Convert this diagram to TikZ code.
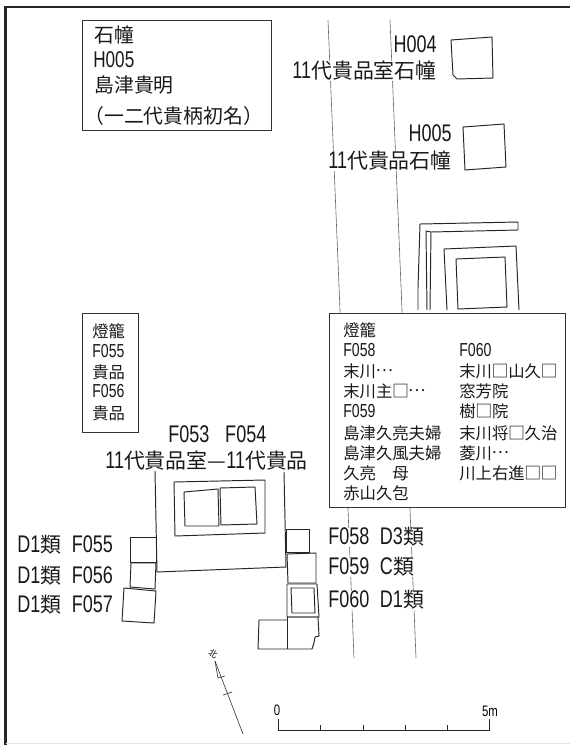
\documentclass[tikz,border=0pt]{standalone}
\usepackage{fontspec}
\setmainfont{Noto Sans CJK JP}
\newfontfamily\lat[Scale=1.15,FakeStretch=.75]{Liberation Sans}
\newcommand\puntos{\makebox[1em]{\raisebox{.33em}{…}}}
\newcommand\hueco{\makebox[1em]{\scalebox{1.04}{□}}}
\tikzset{
    marco/.style={line width=1.2pt, black!85},
    cuadro/.style={draw=black!80, line width=0.5pt, fill=white},
    muro/.style={draw=black!85, line width=0.55pt},
    camino/.style={draw=black!60, line width=0.35pt},
    rotulo/.style={anchor=west, inner sep=0pt, fill=white, text=black!90, font=\fontsize{11.9}{14}\selectfont},
    rotuloder/.style={rotulo, anchor=east},
    pilar/.style={anchor=west, inner sep=0pt, text=black!90, font=\fontsize{11.3}{13}\selectfont},
    nota/.style={anchor=west, inner sep=0pt, text=black!90, font=\fontsize{9.3}{11}\selectfont},
    escala/.style={draw=black!85, line width=0.55pt}
}
\begin{document}
\begin{tikzpicture}[x=0.02cm, y=-0.02cm]
    \useasboundingbox (0,0) rectangle (570,745);

    % Dibuja el marco
    \draw[marco] (5.5,745) -- (5.5,7) -- (570,7);
    \draw[black!10, line width=0.5pt] (5.5,743.5) -- (570,743.5);

    % Dibuja los caminos
    \draw[camino] (328,20) -- (340,310) -- (354,658);
    \draw[camino] (390,20) -- (402,310) -- (416,658);

    % Dibuja los bloques de arriba
    \draw[muro] (451,40) -- (492,37) -- (493,78) -- (457,79) -- (453,75) -- cycle;
    \draw[muro] (463,127) -- (504,124) -- (506,167) -- (465,170) -- cycle;

    % Dibuja la tumba de arriba
    \draw[muro] (418,310) -- (418,288) -- (420,224) -- (518,222) -- (518,230) -- (431,232) -- (430,310);
    \draw[muro] (431,232) -- (426,231) -- (427,310);
    \draw[muro] (447,310) -- (444,249) -- (516,246) -- (519,310);
    \draw[muro] (456,259) -- (505,257) -- (507,307) -- (458,309) -- cycle;

    % Dibuja la tumba de abajo
    \draw[muro] (155,471) -- (157,572) -- (286,567) -- (284,472);
    \draw[muro] (174,482) -- (265,480) -- (265,533) -- (175,536) -- cycle;
    \draw[muro] (184,492) -- (218,489) -- (219,526) -- (185,526) -- cycle;
    \draw[muro] (220,488) -- (255,487) -- (257,524) -- (221,525) -- cycle;

    % Dibuja los bloques de la izquierda
    \draw[muro] (130,537) -- (156,537) -- (156,562) -- (130,562) -- cycle;
    \draw[muro] (131,563) -- (156,563) -- (155,589) -- (130,587) -- cycle;
    \draw[muro] (124,588) -- (156,591) -- (154,623) -- (122,621) -- cycle;

    % Dibuja los bloques de la derecha
    \draw[muro] (286,529) -- (309,529) -- (309,552) -- (286,552) -- cycle;
    \draw[muro] (287,554) -- (316,553) -- (316,583) -- (288,583) -- cycle;
    \draw[muro] (287,584) -- (317,584) -- (319,617) -- (287,617) -- cycle;
    \draw[muro] (291,588) -- (314,588) -- (315,613) -- (292,613) -- cycle;
    \draw[muro] (287,617) -- (318,617) -- (319,636) -- (315,637) -- (314,643) -- (312,649) -- (258,649) -- (259,620) -- (287,620);
    \draw[muro] (287,617) -- (287,649);

    % Etiquetas de arriba
    \node[rotuloder] (tagHcuatro) at (437,44) {\lat H004};
    \node[rotuloder] (nameHcuatro) at (437,71) {\lat 11\normalfont 代貴品室石幢};
    \node[rotuloder] (tagHcinco) at (452,133) {\lat H005};
    \node[rotuloder] (nameHcinco) at (452,161) {\lat 11\normalfont 代貴品石幢};

    % Etiquetas de abajo
    \node[rotulo] (tagFtumba) at (168,434) {\lat F053\hspace{9pt}F054};
    \node[rotulo] (nameFtumba) at (105,461) {\lat 11\normalfont 代貴品室—\lat 11\normalfont 代貴品};
    \node[rotulo] (labelFa) at (17,545) {\lat D1\normalfont 類\hspace{6pt}\lat F055};
    \node[rotulo] (labelFb) at (17,576) {\lat D1\normalfont 類\hspace{6pt}\lat F056};
    \node[rotulo] (labelFc) at (17,605) {\lat D1\normalfont 類\hspace{6pt}\lat F057};
    \node[rotulo] (labelFd) at (328,537) {\lat F058\hspace{6pt}D3\normalfont 類};
    \node[rotulo] (labelFe) at (328,567) {\lat F059\hspace{6pt}C\normalfont 類};
    \node[rotulo] (labelFf) at (328,600) {\lat F060\hspace{6pt}D1\normalfont 類};

    % Cuadro del pilar
    \node[cuadro, minimum width=189.5*0.02cm, minimum height=110.5*0.02cm, anchor=north west, inner sep=0pt] (boxPilar) at (81.5,19.5) {};
    \node[pilar] (pilarA) at (94,35) {石幢};
    \node[pilar] (pilarB) at (93,60) {\lat H005};
    \node[pilar] (pilarC) at (94,85) {島津貴明};
    \node[pilar] (pilarD) at (84,116) {（一二代貴柄初名）};

    % Cuadro de la izquierda
    \node[cuadro, minimum width=56*0.02cm, minimum height=119*0.02cm, anchor=north west, inner sep=0pt] (boxLinterna) at (82,313) {};
    \foreach \nombre/\y/\txt in {a/331/燈籠, b/351/{\lat F055}, c/372/貴品, d/391/{\lat F056}, e/413/貴品}
        \node[nota] (linterna\nombre) at (92,\y) {\txt};

    % Cuadro de la derecha
    \node[cuadro, minimum width=236*0.02cm, minimum height=194*0.02cm, anchor=north west, inner sep=0pt] (boxLista) at (329,313) {};
    \foreach \nombre/\y/\txt in {a/330/燈籠, b/350/{\lat F058}, c/371/末川\puntos, d/391/末川主\hueco\puntos, e/411/{\lat F059}, f/433/島津久亮夫婦, g/453/島津久風夫婦, h/473/久亮　母, i/493/赤山久包}
        \node[nota] (listaL\nombre) at (343,\y) {\txt};
    \foreach \nombre/\y/\txt in {a/350/{\lat F060}, b/371/末川\hueco 山久\hueco, c/391/窓芳院, d/411/樹\hueco 院, e/433/末川将\hueco 久治, f/453/菱川\puntos, g/473/川上右進\hueco\hueco}
        \node[nota] (listaR\nombre) at (459,\y) {\txt};

    % Dibuja el norte
    \node[inner sep=0pt, rotate=-30, font=\fontsize{5}{6}\selectfont] (norte) at (213,654) {北};
    \coordinate (norteA) at (215,661);
    \coordinate (norteB) at (243,734);
    \draw[black!80, line width=0.35pt] (norteA) -- (norteB);
    \draw[black!80, line width=0.35pt] (norteA) -- (218,678) -- (225,676);
    \draw[black!80, line width=0.35pt] (223,695) -- (232,692);

    % Dibuja la escala
    \draw[escala] (278,719) -- (278,730) -- (489,730) -- (489,719);
    \foreach \x in {320,363,405,447}
        \draw[escala] (\x,725) -- (\x,730);
    \node[inner sep=0pt, font=\fontsize{7.5}{9}\selectfont] (cero) at (277,710) {\lat 0};
    \node[inner sep=0pt, font=\fontsize{7.5}{9}\selectfont] (cinco) at (490,711) {\lat 5m};
\end{tikzpicture}
\end{document}
